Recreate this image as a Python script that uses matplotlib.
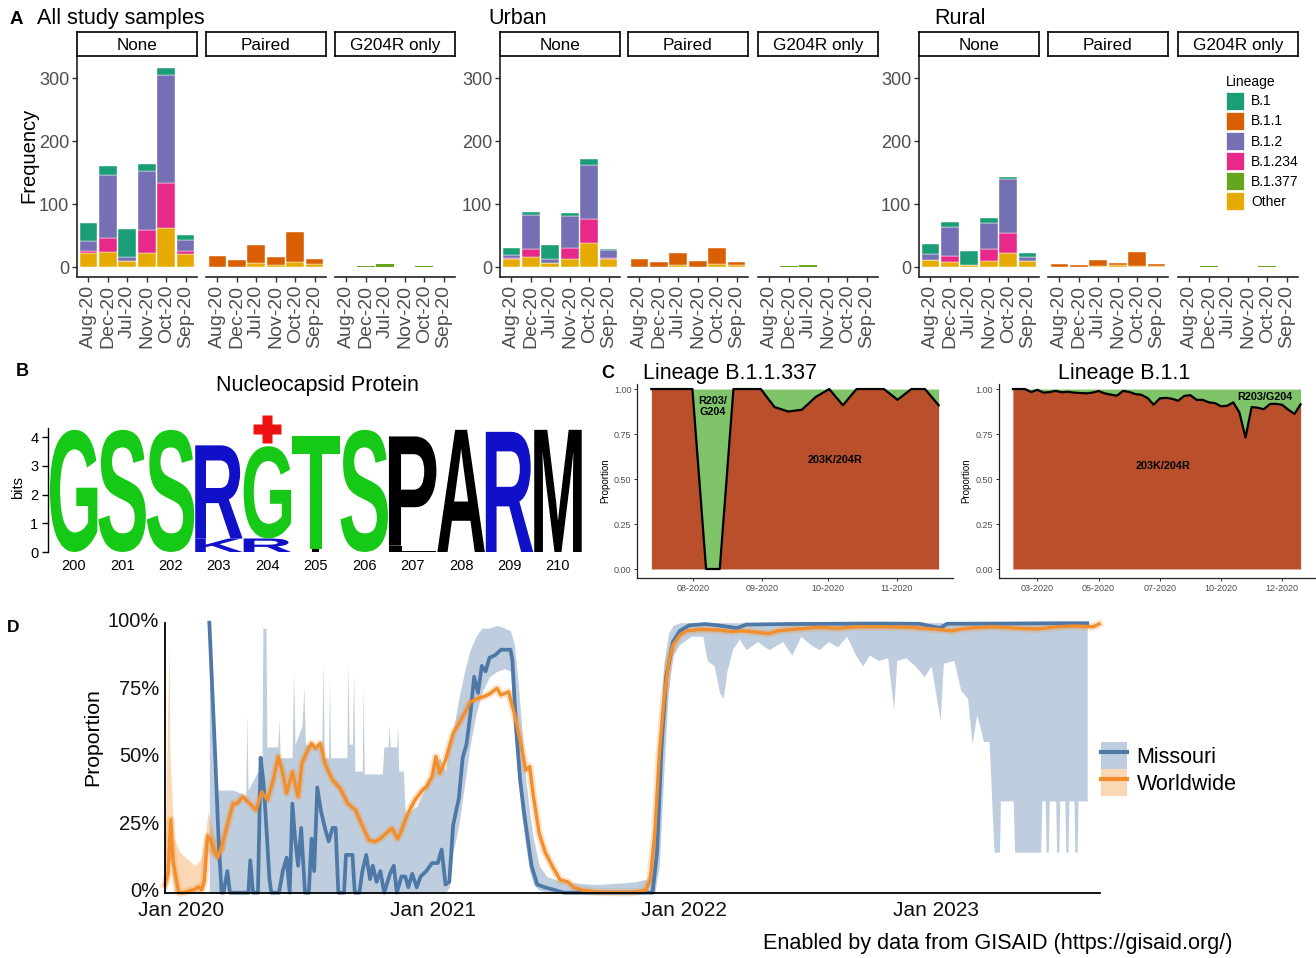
import numpy as np
import pandas as pd
import matplotlib
matplotlib.use('Agg')
import matplotlib.pyplot as plt
import matplotlib.dates as mdates
import matplotlib.transforms as mtransforms
from matplotlib.patches import Patch, PathPatch
from matplotlib.lines import Line2D
from matplotlib.textpath import TextPath
from matplotlib.font_manager import FontProperties

plt.rcParams['font.family'] = ['Liberation Sans', 'DejaVu Sans']

# ---------------- Panel A data ----------------
months = ['Aug-20', 'Dec-20', 'Jul-20', 'Nov-20', 'Oct-20', 'Sep-20']
lineages = ['B.1', 'B.1.1', 'B.1.2', 'B.1.234', 'B.1.377', 'Other']
lineage_colors = ['#1B9E77', '#D95F02', '#7570B3', '#E7298A', '#66A61E', '#E6AB02']
facets = ['None', 'Paired', 'G204R only']
groups = ['All study samples', 'Urban', 'Rural']

all_none = {'B.1': [29, 14, 44, 12, 11, 8], 'B.1.2': [15, 100, 6, 93, 173, 18],
            'B.1.234': [3, 22, 0, 37, 71, 4], 'Other': [23, 24, 10, 22, 62, 21]}
all_paired = {'B.1.1': [18, 11, 29, 13, 47, 8], 'Other': [0, 0, 6, 3, 8, 5]}
all_g204r = {'B.1.377': [0, 2, 4, 0, 1, 0]}

urban_none = {'B.1': [12, 5, 23, 5, 9, 2], 'B.1.2': [5, 54, 5, 50, 86, 12],
              'B.1.234': [2, 12, 0, 19, 39, 3], 'Other': [12, 16, 7, 12, 38, 12]}
urban_paired = {'B.1.1': [13, 8, 20, 10, 25, 5], 'Other': [0, 0, 3, 0, 5, 3]}
urban_g204r = {'B.1.377': [0, 1, 3, 0, 0, 0]}

rural_none = {'B.1': [17, 8, 22, 8, 3, 6], 'B.1.2': [9, 46, 0, 42, 86, 6],
              'B.1.234': [0, 10, 0, 18, 32, 1], 'Other': [11, 8, 3, 10, 22, 9]}
rural_paired = {'B.1.1': [4, 3, 9, 3, 22, 3], 'Other': [0, 0, 2, 3, 2, 2]}
rural_g204r = {'B.1.377': [0, 2, 0, 0, 1, 0]}

# ---------------- Panel B data ----------------
logo_positions = [200, 201, 202, 203, 204, 205, 206, 207, 208, 209, 210]
# stacks bottom -> top: (letter, bits)
logo_stacks = [
    [('G', 4.25)],
    [('S', 4.25)],
    [('S', 4.25)],
    [('K', 0.47), ('R', 3.24)],
    [('R', 0.47), ('G', 3.21)],
    [('I', 0.09), ('T', 3.95)],
    [('S', 4.25)],
    [('L', 0.22), ('P', 3.80)],
    [('A', 4.25)],
    [('R', 4.18)],
    [('M', 4.25)],
]
logo_colors = {'G': '#17C917', 'S': '#17C917', 'T': '#17C917', 'R': '#1010C8', 'K': '#1010C8',
               'P': '#000000', 'A': '#000000', 'M': '#000000', 'L': '#000000', 'I': '#000000'}
mutation_site = 204

# ---------------- Panel C data ----------------
c1_start, c1_end = '2020-07-13', '2020-11-20'
c1_prop = [1.0, 1.0, 1.0, 1.0, 0.0, 0.0, 1.0, 1.0, 1.0, 0.90, 0.875, 0.885, 0.955, 1.0,
           0.91, 1.0, 1.0, 1.0, 0.94, 1.0, 1.0, 0.91]
c1_ticks = ['2020-08-01', '2020-09-01', '2020-10-01', '2020-11-01']
c1_ticklabels = ['08-2020', '09-2020', '10-2020', '11-2020']

c2_prop = [1.0, 1.0, 1.0, 0.983, 0.996, 0.98, 0.983, 0.99, 0.982, 0.985, 0.98, 0.978,
           0.976, 0.98, 0.989, 0.976, 0.969, 0.963, 0.99, 0.984, 0.972, 0.968, 0.95, 0.913,
           0.948, 0.951, 0.946, 0.935, 0.962, 0.966, 0.94, 0.94, 0.926, 0.922, 0.904, 0.907,
           0.926, 0.87, 0.731, 0.9, 0.896, 0.888, 0.917, 0.918, 0.912, 0.885, 0.862, 0.915]
c2_tick_idx = [4, 14, 24, 34, 44]
c2_ticklabels = ['03-2020', '05-2020', '07-2020', '10-2020', '12-2020']

# ---------------- Panel D data (decimal year, proportion) ----------------
worldwide = [
    (2019.9346, 0.03), (2019.9468, 0.07), (2019.9574, 0.27), (2019.9665, 0.12), (2019.9772, 0.06),
    (2019.9894, 0.0), (2020.0076, 0.0), (2020.0304, 0.007), (2020.0533, 0.012), (2020.0685, 0.022),
    (2020.0807, 0.01), (2020.0913, 0.047), (2020.1035, 0.21), (2020.1142, 0.2), (2020.1294, 0.16),
    (2020.1446, 0.13), (2020.1598, 0.17), (2020.1826, 0.25), (2020.2054, 0.33), (2020.2206, 0.33),
    (2020.2435, 0.355), (2020.2663, 0.335), (2020.2967, 0.306), (2020.3196, 0.374), (2020.3424, 0.343),
    (2020.3652, 0.417), (2020.3850, 0.504), (2020.4032, 0.442), (2020.4184, 0.368), (2020.4413, 0.448),
    (2020.4641, 0.355), (2020.4793, 0.479), (2020.5021, 0.528), (2020.5173, 0.553), (2020.5325, 0.535),
    (2020.5523, 0.553), (2020.5706, 0.479), (2020.6010, 0.417), (2020.6314, 0.386), (2020.6618, 0.33),
    (2020.6923, 0.306), (2020.7151, 0.257), (2020.7455, 0.195), (2020.7684, 0.189), (2020.7912, 0.2),
    (2020.8141, 0.22), (2020.8369, 0.238), (2020.8597, 0.2), (2020.8749, 0.23), (2020.8978, 0.288),
    (2020.9282, 0.343), (2020.9586, 0.38), (2020.9738, 0.392), (2020.9967, 0.43), (2021.0119, 0.504),
    (2021.0271, 0.442), (2021.0500, 0.49), (2021.0804, 0.59), (2021.1032, 0.627), (2021.1260, 0.664),
    (2021.1488, 0.707), (2021.1793, 0.72), (2021.2021, 0.726), (2021.2249, 0.736), (2021.2553, 0.757),
    (2021.2706, 0.732), (2021.2858, 0.738), (2021.3010, 0.744), (2021.3238, 0.664), (2021.3466, 0.565),
    (2021.3694, 0.454), (2021.3846, 0.467), (2021.3998, 0.356), (2021.4227, 0.22), (2021.4455, 0.152),
    (2021.4759, 0.096), (2021.5063, 0.047), (2021.5368, 0.04), (2021.5596, 0.02), (2021.5900, 0.01),
    (2021.6509, 0.002), (2021.7270, 0.001), (2021.8030, 0.001), (2021.8460, 0.01), (2021.8641, 0.047),
    (2021.8823, 0.22), (2021.9004, 0.516), (2021.9186, 0.714), (2021.9367, 0.85), (2021.9549, 0.917),
    (2021.9821, 0.954), (2022.0094, 0.97), (2022.0638, 0.975), (2022.1364, 0.973), (2022.1909, 0.967),
    (2022.2272, 0.97), (2022.2635, 0.967), (2022.3361, 0.96), (2022.3725, 0.97), (2022.4270, 0.975),
    (2022.5359, 0.983), (2022.6085, 0.979), (2022.6811, 0.985), (2022.7900, 0.985), (2022.8990, 0.983),
    (2023.0079, 0.975), (2023.0623, 0.97), (2023.1169, 0.979), (2023.2258, 0.985), (2023.3348, 0.979),
    (2023.4073, 0.977), (2023.4800, 0.985), (2023.5526, 0.988), (2023.6252, 0.985), (2023.6488, 0.995),
]
missouri = [
    (2020.1111, 1.0), (2020.1324, 0.55), (2020.1477, 0.2), (2020.1598, 0.0), (2020.1674, 0.0),
    (2020.1826, 0.08), (2020.1932, 0.0), (2020.2663, 0.0), (2020.2739, 0.12), (2020.2846, 0.0),
    (2020.3044, 0.0), (2020.3150, 0.5), (2020.3272, 0.4), (2020.3393, 0.22), (2020.3500, 0.05),
    (2020.3576, 0.0), (2020.3880, 0.0), (2020.4032, 0.08), (2020.4184, 0.13), (2020.4306, 0.0),
    (2020.4413, 0.33), (2020.4520, 0.2), (2020.4641, 0.1), (2020.4762, 0.24), (2020.4915, 0.0),
    (2020.5067, 0.0), (2020.5173, 0.2), (2020.5280, 0.08), (2020.5402, 0.39), (2020.5554, 0.3),
    (2020.5706, 0.24), (2020.5858, 0.19), (2020.6010, 0.24), (2020.6132, 0.24), (2020.6239, 0.0),
    (2020.6467, 0.0), (2020.6543, 0.14), (2020.6802, 0.14), (2020.6893, 0.0), (2020.7075, 0.0),
    (2020.7197, 0.08), (2020.7349, 0.14), (2020.7501, 0.05), (2020.7608, 0.1), (2020.7760, 0.04),
    (2020.7912, 0.08), (2020.8064, 0.0), (2020.8293, 0.07), (2020.8445, 0.1), (2020.8567, 0.0),
    (2020.8749, 0.06), (2020.8902, 0.06), (2020.9023, 0.02), (2020.9176, 0.07), (2020.9358, 0.02),
    (2020.9510, 0.06), (2020.9738, 0.08), (2020.9967, 0.11), (2021.0195, 0.11), (2021.0347, 0.16),
    (2021.0500, 0.03), (2021.0652, 0.04), (2021.0804, 0.25), (2021.1032, 0.35), (2021.1184, 0.5),
    (2021.1336, 0.55), (2021.1488, 0.66), (2021.1641, 0.8), (2021.1793, 0.74), (2021.1945, 0.84),
    (2021.2097, 0.82), (2021.2249, 0.87), (2021.2477, 0.88), (2021.2706, 0.9), (2021.2934, 0.9),
    (2021.3086, 0.9), (2021.3162, 0.86), (2021.3314, 0.6), (2021.3466, 0.42), (2021.3618, 0.3),
    (2021.3770, 0.2), (2021.3922, 0.1), (2021.4150, 0.03), (2021.4455, 0.02), (2021.4835, 0.01),
    (2021.5215, 0.0), (2021.8732, 0.0), (2021.8913, 0.15), (2021.9095, 0.55), (2021.9277, 0.8),
    (2021.9549, 0.93), (2021.9821, 0.97), (2022.0184, 0.99), (2022.0820, 0.995), (2022.1364, 0.99),
    (2022.2090, 0.98), (2022.2454, 0.993), (2022.3906, 0.995), (2022.5722, 0.996), (2022.7537, 0.997),
    (2022.9353, 0.996), (2023.0170, 0.98), (2023.0442, 0.996), (2023.2984, 0.997), (2023.4800, 0.998),
    (2023.6017, 0.998),
]
# (decimal year, lower, upper)
missouri_ci = [
    (2020.1111, 0.0, 1.0), (2020.1218, 0.0, 0.7), (2020.1324, 0.0, 0.38), (2020.2054, 0.0, 0.38),
    (2020.2560, 0.0, 0.36), (2020.2600, 0.0, 0.66), (2020.2650, 0.0, 0.38), (2020.3044, 0.0, 0.45),
    (2020.3200, 0.0, 0.45), (2020.3241, 0.0, 0.98), (2020.3363, 0.0, 0.98), (2020.3400, 0.0, 0.54),
    (2020.3830, 0.0, 0.54), (2020.3880, 0.0, 0.64), (2020.3930, 0.0, 0.5), (2020.4400, 0.0, 0.5),
    (2020.4459, 0.0, 0.82), (2020.4520, 0.0, 0.55), (2020.4800, 0.0, 0.62), (2020.4869, 0.0, 0.76),
    (2020.4930, 0.0, 0.55), (2020.5580, 0.0, 0.54), (2020.5630, 0.0, 0.86), (2020.5680, 0.0, 0.5),
    (2020.5850, 0.0, 0.5), (2020.5889, 0.0, 0.79), (2020.5930, 0.0, 0.5), (2020.6580, 0.0, 0.5),
    (2020.6619, 0.0, 0.85), (2020.6670, 0.0, 0.55), (2020.6800, 0.0, 0.55), (2020.6847, 0.0, 0.82),
    (2020.6900, 0.0, 0.45), (2020.7190, 0.0, 0.45), (2020.7228, 0.0, 0.76), (2020.7270, 0.0, 0.44),
    (2020.7989, 0.0, 0.44), (2020.8050, 0.0, 0.54), (2020.8220, 0.0, 0.54), (2020.8262, 0.0, 0.62),
    (2020.8300, 0.0, 0.54), (2020.8560, 0.0, 0.54), (2020.8597, 0.0, 0.62), (2020.8640, 0.0, 0.45),
    (2020.8826, 0.0, 0.45), (2020.8900, 0.0, 0.29), (2020.9358, 0.0, 0.32), (2020.9663, 0.0, 0.38),
    (2020.9967, 0.0, 0.45), (2021.0271, 0.0, 0.5), (2021.0500, 0.0, 0.45), (2021.0652, 0.02, 0.55),
    (2021.0804, 0.15, 0.6), (2021.1032, 0.25, 0.72), (2021.1260, 0.4, 0.82), (2021.1488, 0.55, 0.9),
    (2021.1717, 0.66, 0.95), (2021.1945, 0.74, 0.98), (2021.2249, 0.8, 0.98), (2021.2553, 0.82, 0.99),
    (2021.2858, 0.83, 0.98), (2021.3086, 0.82, 0.97), (2021.3238, 0.62, 0.92), (2021.3390, 0.42, 0.78),
    (2021.3542, 0.28, 0.6), (2021.3694, 0.17, 0.42), (2021.3846, 0.08, 0.3), (2021.3998, 0.03, 0.2),
    (2021.4227, 0.01, 0.1), (2021.4531, 0.0, 0.06), (2021.5140, 0.0, 0.04), (2021.6509, 0.0, 0.03),
    (2021.8030, 0.0, 0.04), (2021.8488, 0.0, 0.05), (2021.8716, 0.0, 0.1), (2021.8823, 0.0, 0.3),
    (2021.9004, 0.1, 0.6), (2021.9186, 0.45, 0.85), (2021.9367, 0.75, 0.96), (2021.9549, 0.88, 0.99),
    (2021.9821, 0.92, 1.0), (2022.0275, 0.95, 1.0), (2022.0729, 0.95, 1.0), (2022.0910, 0.86, 1.0),
    (2022.1183, 0.84, 1.0), (2022.1401, 0.74, 1.0), (2022.1546, 0.72, 1.0), (2022.1691, 0.82, 1.0),
    (2022.1909, 0.9, 1.0), (2022.2181, 0.94, 1.0), (2022.2454, 0.9, 1.0), (2022.2907, 0.93, 1.0),
    (2022.3361, 0.9, 1.0), (2022.3906, 0.93, 1.0), (2022.4270, 0.88, 1.0), (2022.4632, 0.95, 1.0),
    (2022.4995, 0.92, 1.0), (2022.5359, 0.9, 1.0), (2022.5722, 0.93, 1.0), (2022.6085, 0.91, 1.0),
    (2022.6448, 0.95, 1.0), (2022.6811, 0.88, 1.0), (2022.7084, 0.84, 1.0), (2022.7356, 0.88, 1.0),
    (2022.7719, 0.86, 1.0), (2022.8082, 0.87, 1.0), (2022.8318, 0.68, 1.0), (2022.8445, 0.86, 1.0),
    (2022.8808, 0.87, 1.0), (2022.9171, 0.84, 1.0), (2022.9534, 0.8, 1.0), (2022.9807, 0.84, 1.0),
    (2023.0170, 0.64, 1.0), (2023.0297, 0.85, 1.0), (2023.0714, 0.86, 1.0), (2023.0986, 0.75, 1.0),
    (2023.1258, 0.72, 1.0), (2023.1440, 0.55, 1.0), (2023.1622, 0.66, 1.0), (2023.1894, 0.56, 1.0),
    (2023.2112, 0.56, 1.0), (2023.2221, 0.34, 1.0), (2023.2312, 0.15, 1.0), (2023.2530, 0.15, 1.0),
    (2023.2566, 0.34, 1.0), (2023.3074, 0.34, 1.0), (2023.3129, 0.15, 1.0), (2023.4163, 0.15, 1.0),
    (2023.4218, 0.34, 1.0), (2023.4345, 0.34, 1.0), (2023.4381, 0.15, 1.0), (2023.4472, 0.15, 1.0),
    (2023.4508, 0.34, 1.0), (2023.4763, 0.34, 1.0), (2023.4799, 0.15, 1.0), (2023.4890, 0.15, 1.0),
    (2023.4926, 0.34, 1.0), (2023.5126, 0.34, 1.0), (2023.5162, 0.15, 1.0), (2023.5253, 0.15, 1.0),
    (2023.5289, 0.34, 1.0), (2023.5489, 0.34, 1.0), (2023.5525, 0.15, 1.0), (2023.5616, 0.15, 1.0),
    (2023.5652, 0.34, 1.0), (2023.6015, 0.34, 1.0),
]
worldwide_ci = [
    (2019.9336, 0.0, 0.1), (2019.9507, 0.05, 0.92), (2019.9547, 0.12, 0.5), (2019.9706, 0.0, 0.2),
    (2019.9944, 0.0, 0.15), (2020.0541, 0.0, 0.1), (2020.0740, 0.0, 0.12), (2020.0938, 0.03, 0.2),
    (2020.1058, 0.15, 0.3), (2020.1336, 0.13, 0.2), (2020.1734, 0.16, 0.2),
]
d_years = [2020, 2021, 2022, 2023]
d_yticks = [0, 0.25, 0.5, 0.75, 1.0]

# ---------------- figure ----------------
W, H = 1316, 958
fig = plt.figure(figsize=(W / 100, H / 100), dpi=100)


def px_axes(l, t, r, b):
    return fig.add_axes([l / W, 1 - b / H, (r - l) / W, (b - t) / H])


def fx(x):
    return x / W


def fy(y):
    return 1 - y / H


GRAY30 = '#4D4D4D'

# ---------------- Panel A ----------------
group_data = {
    'All study samples': [all_none, all_paired, all_g204r],
    'Urban': [urban_none, urban_paired, urban_g204r],
    'Rural': [rural_none, rural_paired, rural_g204r],
}
group_facet_px = {
    'All study samples': [(77, 197), (206, 326), (335, 455)],
    'Urban': [(500, 620), (628, 748), (758, 878)],
    'Rural': [(919, 1039), (1048, 1168), (1178, 1298)],
}
group_title_x = {'All study samples': 37, 'Urban': 488, 'Rural': 934}
color_of = dict(zip(lineages, lineage_colors))

for g in groups:
    fig.text(fx(group_title_x[g]), fy(18.5), g, fontsize=15.5, va='center', ha='left')
    for k, (facet, data) in enumerate(zip(facets, group_data[g])):
        l, r = group_facet_px[g][k]
        ax = px_axes(l, 57, r, 277)
        x = np.arange(len(months))
        bottom = np.zeros(len(months))
        edge_lw = 0.3 if facet != 'G204R only' else 0.0
        for lin in lineages[::-1]:
            vals = np.array(data.get(lin, [0] * len(months)), dtype=float)
            if vals.sum() > 0:
                ax.bar(x, vals, 0.9, bottom=bottom, color=color_of[lin],
                       edgecolor='white', linewidth=edge_lw)
            bottom += vals
        ax.set_xlim(-0.58, len(months) - 1 + 0.58)
        ax.set_ylim(-15.9, 334)
        for s in ['top', 'right']:
            ax.spines[s].set_visible(False)
        ax.spines['bottom'].set_linewidth(1.2)
        ax.spines['bottom'].set_color('#222222')
        ax.set_xticks(x)
        ax.set_xticklabels(months, rotation=90, fontsize=14, color=GRAY30)
        ax.tick_params(axis='x', length=3.5, width=1, color='#333333', pad=2)
        if k == 0:
            ax.spines['left'].set_linewidth(1.2)
            ax.spines['left'].set_color('#222222')
            ax.set_yticks([0, 100, 200, 300])
            ax.tick_params(axis='y', length=3.5, width=1, color='#333333', labelsize=13,
                           labelcolor=GRAY30, pad=2)
        else:
            ax.spines['left'].set_visible(False)
            ax.set_yticks([])
        # strip
        sax = px_axes(l, 32, r, 56)
        sax.set_xticks([]); sax.set_yticks([])
        for s in sax.spines.values():
            s.set_linewidth(1.2); s.set_color('black')
        sax.text(0.5, 0.44, facet, fontsize=12.3, ha='center', va='center', transform=sax.transAxes)

fig.text(fx(29), fy(155), 'Frequency', rotation=90, fontsize=14.5, ha='center', va='center')
fig.text(fx(10), fy(19), 'A', fontsize=13.5, fontweight='bold', ha='left', va='center')

leg_handles = [Patch(facecolor=c, edgecolor='white', linewidth=0.5) for c in lineage_colors]
leg_a = fig.legend(leg_handles, lineages, loc='upper left', bbox_to_anchor=(fx(1226), fy(75)),
                   frameon=False, fontsize=10, title='Lineage', title_fontsize=10,
                   handlelength=1.3, handleheight=1.62, labelspacing=0.15, handletextpad=0.5,
                   borderpad=0, borderaxespad=0, alignment='left')
leg_a._legend_box.sep = 2

# ---------------- Panel B ----------------
fig.text(fx(16), fy(372), 'B', fontsize=13, fontweight='bold', ha='left', va='center')
fig.text(fx(317), fy(385), 'Nucleocapsid Protein', fontsize=15.5, ha='center', va='center')
axb = px_axes(47.5, 410, 584.6, 552)
axb.set_xlim(199.46, 210.55)
axb.set_ylim(0, 4.94)
fp = FontProperties(family='Liberation Sans', weight='bold')


def draw_letter(ax, ch, xc, y0, h, color, width=0.98):
    tp = TextPath((0, 0), ch, size=1, prop=fp)
    bb = tp.get_extents()
    if ch == 'I':
        width = 0.15
    tr = (mtransforms.Affine2D().translate(-bb.x0, -bb.y0)
          .scale(width / bb.width, h / bb.height).translate(xc - width / 2, y0))
    ax.add_patch(PathPatch(tr.transform_path(tp), facecolor=color, edgecolor='none'))


for pos, stack in zip(logo_positions, logo_stacks):
    y0 = 0.0
    for ch, h in stack:
        draw_letter(axb, ch, pos, y0, h, logo_colors[ch])
        y0 += h
axb.plot([mutation_site], [4.28], marker='P', markersize=20, color='#EE1111',
         markeredgecolor='none', clip_on=False)
for s in ['top', 'right', 'bottom']:
    axb.spines[s].set_visible(False)
axb.spines['left'].set_bounds(0, 4.3)
axb.spines['left'].set_linewidth(1)
axb.set_yticks([0, 1, 2, 3, 4])
axb.tick_params(axis='y', length=4.5, width=1, labelsize=10.5, pad=2)
axb.set_xticks(logo_positions)
axb.tick_params(axis='x', length=0, labelsize=10.5, pad=5)
fig.text(fx(18), fy(487), 'bits', rotation=90, fontsize=10.5, ha='center', va='center')

# ---------------- Panel C ----------------
RUST = '#B9502B'
GREEN = '#80C46A'
fig.text(fx(601), fy(373), 'C', fontsize=13, fontweight='bold', ha='left', va='center')

axc1 = px_axes(637, 384, 953, 578)
c1_x = mdates.date2num(pd.date_range(c1_start, c1_end, periods=len(c1_prop)))
c1_y = np.array(c1_prop)
axc1.fill_between(c1_x, 0, c1_y, color=RUST, linewidth=0)
axc1.fill_between(c1_x, c1_y, 1, color=GREEN, linewidth=0)
axc1.plot(c1_x, c1_y, color='black', lw=1.6)
span = c1_x[-1] - c1_x[0]
axc1.set_xlim(c1_x[0] - 0.05 * span, c1_x[-1] + 0.05 * span)
axc1.set_ylim(-0.05, 1.028)
axc1.set_xticks(mdates.date2num(pd.to_datetime(c1_ticks)))
axc1.set_xticklabels(c1_ticklabels)
step = c1_x[1] - c1_x[0]
axc1.text(c1_x[4] + 0.5 * step, 0.905, 'R203/\nG204', fontsize=7.8, fontweight='bold',
          ha='center', va='center', linespacing=1.15)
axc1.text(c1_x[13] + 0.44 * step, 0.606, '203K/204R', fontsize=7.8, fontweight='bold',
          ha='center', va='center')
fig.text(fx(643), fy(373), 'Lineage B.1.1.337', fontsize=15.5, ha='left', va='center')

axc2 = px_axes(998.5, 384, 1315, 578)
c2_x = np.arange(len(c2_prop))
c2_y = np.array(c2_prop)
axc2.fill_between(c2_x, 0, c2_y, color=RUST, linewidth=0)
axc2.fill_between(c2_x, c2_y, 1, color=GREEN, linewidth=0)
axc2.plot(c2_x, c2_y, color='black', lw=1.6)
span2 = c2_x[-1] - c2_x[0]
axc2.set_xlim(c2_x[0] - 0.05 * span2, c2_x[-1] + 0.05 * span2)
axc2.set_ylim(-0.05, 1.028)
axc2.set_xticks(c2_tick_idx)
axc2.set_xticklabels(c2_ticklabels)
axc2.text(41.1, 0.955, 'R203/G204', fontsize=7.8, fontweight='bold', ha='center', va='center')
axc2.text(24.6, 0.572, '203K/204R', fontsize=7.8, fontweight='bold', ha='center', va='center')
fig.text(fx(1058), fy(373), 'Lineage B.1.1', fontsize=15.5, ha='left', va='center')

for axc in (axc1, axc2):
    for s in ['top', 'right']:
        axc.spines[s].set_visible(False)
    for s in ['left', 'bottom']:
        axc.spines[s].set_linewidth(0.9)
        axc.spines[s].set_color('#222222')
    axc.set_yticks([0, 0.25, 0.5, 0.75, 1.0])
    axc.set_yticklabels(['0.00', '0.25', '0.50', '0.75', '1.00'])
    axc.tick_params(length=2.5, width=0.7, color='#333333', labelsize=6.5, labelcolor=GRAY30, pad=1.5)
    axc.set_ylabel('Proportion', fontsize=7, labelpad=3)

# ---------------- Panel D ----------------
BLUE = '#4E79A7'
ORANGE = '#F28E2B'
fig.text(fx(7), fy(627), 'D', fontsize=12.5, fontweight='bold', ha='left', va='center')
axd = px_axes(164.7, 622.7, 1100, 892.7)
mci_x, mci_lo, mci_hi = map(np.array, zip(*missouri_ci))
wci_x, wci_lo, wci_hi = map(np.array, zip(*worldwide_ci))
ww_x, ww_y = map(np.array, zip(*worldwide))
mo_x, mo_y = map(np.array, zip(*missouri))
axd.fill_between(mci_x, mci_lo, mci_hi, color=BLUE, alpha=0.36, linewidth=0)
axd.fill_between(wci_x, wci_lo, wci_hi, color=ORANGE, alpha=0.35, linewidth=0)
axd.plot(ww_x, ww_y, color=ORANGE, lw=5.5, alpha=0.25, clip_on=False)
axd.plot(mo_x, mo_y, color=BLUE, lw=2.7, clip_on=False, solid_joinstyle='round')
axd.plot(ww_x, ww_y, color=ORANGE, lw=2.4, clip_on=False, solid_joinstyle='round')
axd.set_xlim(2019.9336, 2023.6525)
axd.set_ylim(0, 1)
for s in ['top', 'right']:
    axd.spines[s].set_visible(False)
for s in ['left', 'bottom']:
    axd.spines[s].set_linewidth(1.3)
    axd.spines[s].set_color('black')
axd.set_yticks(d_yticks)
axd.set_yticklabels([f'{int(v * 100)}%' for v in d_yticks])
axd.set_xticks(d_years)
axd.set_xticklabels([f'Jan {y}' for y in d_years])
axd.tick_params(axis='y', length=0, labelsize=14.5, pad=4, labelcolor='#111111')
axd.tick_params(axis='x', length=0, labelsize=15, pad=6, labelcolor='#111111')
for lab in axd.get_yticklabels():
    lab.set_transform(lab.get_transform() + mtransforms.ScaledTranslation(0, 2 / 72, fig.dpi_scale_trans))
fig.text(fx(93), fy(737), 'Proportion', rotation=90, fontsize=15.3, ha='center', va='center')

d_handles = [(Patch(facecolor=BLUE, alpha=0.36, edgecolor='none'), Line2D([], [], color=BLUE, lw=3)),
             (Patch(facecolor=ORANGE, alpha=0.35, edgecolor='none'), Line2D([], [], color=ORANGE, lw=3))]
fig.legend(d_handles, ['Missouri', 'Worldwide'], loc='upper left',
           bbox_to_anchor=(fx(1101), fy(742)), frameon=False, fontsize=15.5,
           handlelength=1.2, handleheight=1.55, labelspacing=0.0, handletextpad=0.45,
           borderpad=0, borderaxespad=0)

fig.text(fx(763), fy(944), 'Enabled by data from GISAID (https://gisaid.org/)', fontsize=15.6,
         ha='left', va='center')

fig.savefig('out.png', dpi=100)
